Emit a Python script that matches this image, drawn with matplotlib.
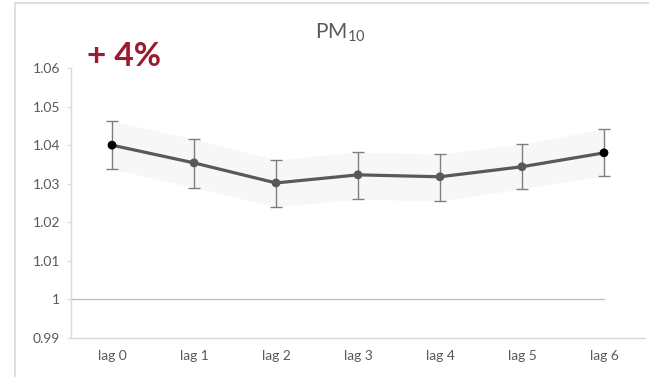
import matplotlib

matplotlib.use('agg')
import matplotlib.pyplot as plt
from matplotlib.patches import Rectangle

lags = ['lag 0', 'lag 1', 'lag 2', 'lag 3', 'lag 4', 'lag 5', 'lag 6']
rr = [1.0400, 1.0354, 1.0302, 1.0323, 1.0318, 1.0344, 1.0380]
ci_low = [1.0338, 1.0290, 1.0240, 1.0260, 1.0255, 1.0287, 1.0320]
ci_high = [1.0462, 1.0416, 1.0362, 1.0382, 1.0377, 1.0403, 1.0442]
yticks = [0.99, 1.0, 1.01, 1.02, 1.03, 1.04, 1.05, 1.06]
ytick_labels = ['0.99', '1', '1.01', '1.02', '1.03', '1.04', '1.05', '1.06']

plt.rcParams['font.family'] = ['Lato', 'DejaVu Sans']
plt.rcParams['mathtext.fontset'] = 'custom'
plt.rcParams['mathtext.rm'] = 'Lato'
plt.rcParams['mathtext.default'] = 'regular'

fig = plt.figure(figsize=(6.49, 3.77), dpi=100)
ax = fig.add_axes([71 / 649, 1 - 338 / 377, 574 / 649, 270 / 377])

# outer chart frame
fig.patches.append(Rectangle((15 / 649, -0.1), 1.2, (377 - 3) / 377 + 0.1,
                             transform=fig.transFigure, fill=False,
                             edgecolor='#d9d9d9', linewidth=1.2))

x = list(range(len(lags)))
ax.fill_between(x, ci_low, ci_high, color='#f7f7f7', linewidth=0, zorder=1)
ax.plot([-0.5, 6], [1, 1], color='#bfbfbf', linewidth=1, zorder=2)
ax.errorbar(x, rr, yerr=[[r - l for r, l in zip(rr, ci_low)],
                         [h - r for r, h in zip(rr, ci_high)]],
            fmt='none', ecolor='#7f7f7f', elinewidth=1, capsize=4, capthick=1, zorder=3)
ax.plot(x, rr, color='#595959', linewidth=2.3, zorder=4)
colors = ['black'] + ['#595959'] * 5 + ['black']
ax.scatter(x, rr, s=40, c=colors, zorder=5, linewidths=0)

ax.set_xlim(-0.5, 6.5)
ax.set_ylim(0.99, 1.06)
ax.set_xticks(x)
ax.set_xticklabels(lags)
ax.set_yticks(yticks)
ax.set_yticklabels(ytick_labels)
ax.tick_params(axis='x', length=0, pad=9, labelsize=10, labelcolor='#595959')
ax.tick_params(axis='y', length=3, color='#d9d9d9', pad=5, labelsize=10, labelcolor='#595959')
for s in ['top', 'right']:
    ax.spines[s].set_visible(False)
for s in ['left', 'bottom']:
    ax.spines[s].set_color('#d9d9d9')
    ax.spines[s].set_linewidth(1)

fig.text(340 / 649, 1 - 33 / 377, '$PM_{10}$', ha='center', va='center',
         fontsize=15, color='#595959')
fig.text(87 / 649, 1 - 56 / 377, '+ 4%', ha='left', va='center',
         fontsize=24, fontweight='bold', color='#9b1b30')

plt.savefig('out.png', dpi=100)
